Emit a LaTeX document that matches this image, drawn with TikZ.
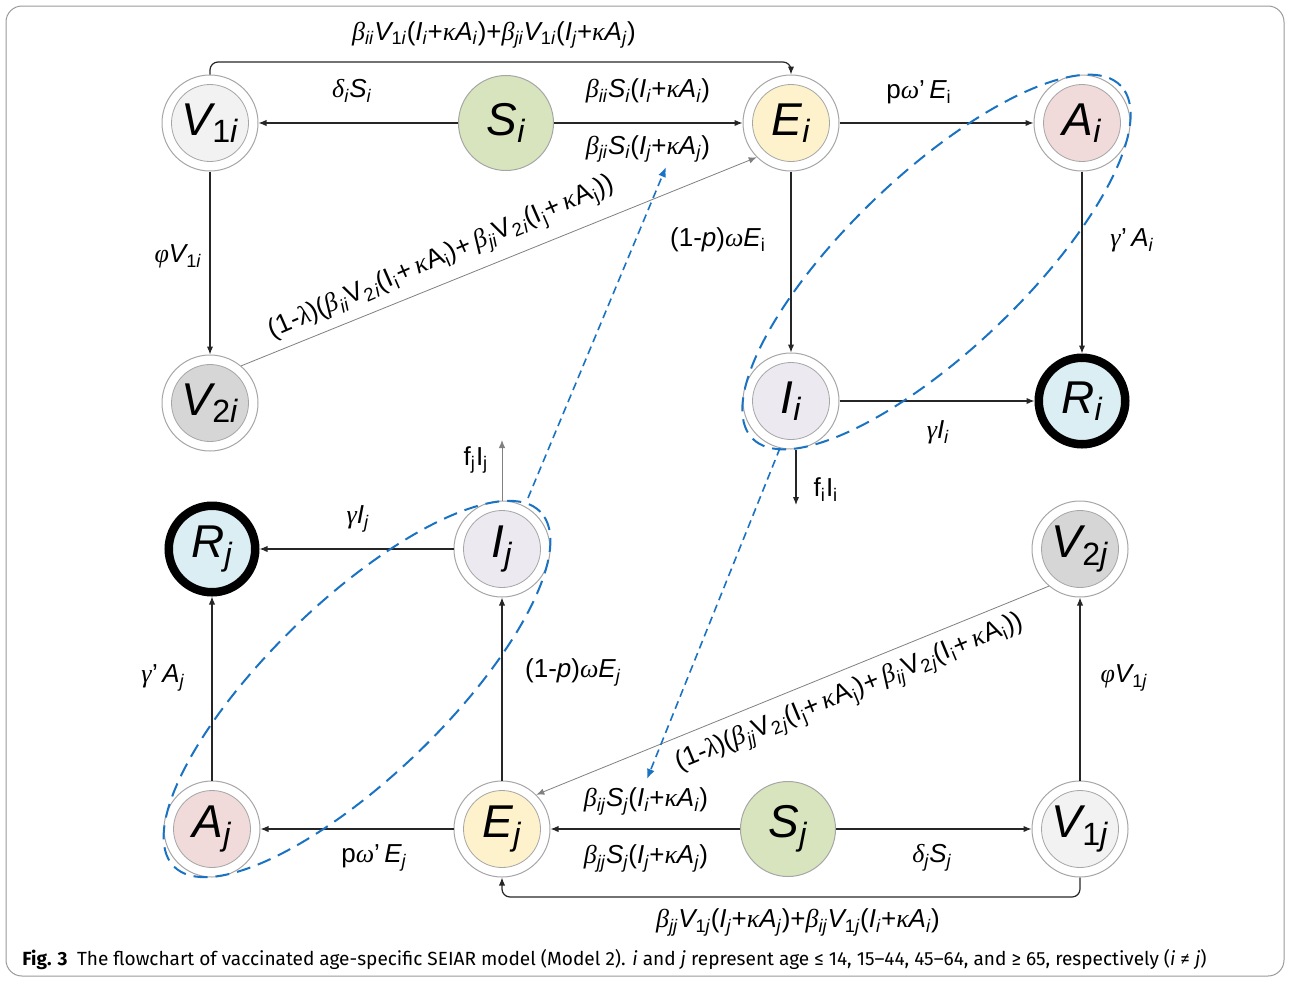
\documentclass[tikz,border=0pt]{standalone}
\usepackage{fontspec}
\usepackage{graphicx}
\setmainfont{Liberation Sans}
\newfontfamily\capfont{Fira Sans}
\newfontfamily\grkfamily{Liberation Serif}
\usetikzlibrary{arrows.meta,calc}
\definecolor{ringgray}{HTML}{A6A6A6}
\definecolor{framegray}{HTML}{9A9A9A}
\definecolor{vonecol}{HTML}{F2F2F2}
\definecolor{vtwocol}{HTML}{D6D6D6}
\definecolor{ecol}{HTML}{FDF2CC}
\definecolor{acol}{HTML}{F0DADA}
\definecolor{icol}{HTML}{ECE9F1}
\definecolor{rcol}{HTML}{DBEEF4}
\definecolor{scol}{HTML}{D7E4BD}
\definecolor{bblue}{HTML}{1A73C2}
\newcommand\ssub[1]{\textsubscript{#1}}
\newcommand\Up[1]{\textup{#1}}
\newcommand\Lp{\textup{(}}
\newcommand\Rp{\textup{)}}
\newcommand\Pl{\textup{+}}
\newcommand\G[1]{{\grkfamily\itshape #1}}
\newcommand\comp[5]{\node[ring] (#1) at (#2,#3) {}; \node[core, fill=#4] (#1c) at (#1) {#5};}
\begin{document}
\begin{tikzpicture}[x=0.5pt,y=-0.5pt,
  ring/.style={circle, draw=ringgray, line width=0.5pt, fill=white, minimum size=48pt, inner sep=0pt},
  core/.style={circle, draw=ringgray, line width=0.4pt, minimum size=38.5pt, inner sep=0pt, font=\fontsize{23}{26}\selectfont\itshape},
  snode/.style={circle, draw=ringgray, line width=0.5pt, fill=scol, minimum size=47.5pt, inner sep=0pt, font=\fontsize{23}{26}\selectfont\itshape},
  rnode/.style={circle, draw=black, line width=4.25pt, fill=rcol, minimum size=43.25pt, inner sep=0pt, font=\fontsize{23}{26}\selectfont\itshape},
  arr/.style={-{Latex[length=4pt,width=3.2pt]}, line width=0.6pt, draw=black!85},
  garr/.style={-{Latex[length=4pt,width=3.2pt]}, line width=0.4pt, draw=gray},
  lbl/.style={font=\fontsize{13}{15}\selectfont\itshape, inner sep=0pt},
  rlbl/.style={font=\fontsize{13.2}{15}\selectfont\itshape, inner sep=0pt},
  bdash/.style={draw=bblue, line width=1pt, dash pattern=on 7pt off 4pt},
  barr/.style={draw=bblue, line width=0.8pt, dash pattern=on 4pt off 2.5pt, -{Latex[length=5pt,width=4pt]}}
]
\useasboundingbox (0,0) rectangle (1290,980);
\draw[framegray, line width=0.5pt, rounded corners=8pt] (6,6) rectangle (1284,976);

% nodes
\comp{V1i}{210}{123}{vonecol}{V\ssub{\Up{1}i}}
\node[snode] (Si) at (506,123) {S\ssub{i}};
\comp{Ei}{791}{123}{ecol}{E\ssub{i}}
\comp{Ai}{1082}{123}{acol}{A\ssub{i}}
\comp{V2i}{210}{403}{vtwocol}{V\ssub{\Up{2}i}}
\comp{Ii}{791}{401}{icol}{I\ssub{i}}
\node[rnode] (Ri) at (1082,401) {R\ssub{i}};
\node[rnode] (Rj) at (212,549) {R\ssub{j}};
\comp{Ij}{502}{549}{icol}{I\ssub{j}}
\comp{V2j}{1080}{549}{vtwocol}{V\ssub{\Up{2}j}}
\comp{Aj}{212}{829}{acol}{A\ssub{j}}
\comp{Ej}{502}{829}{ecol}{E\ssub{j}}
\node[snode] (Sj) at (788,829) {S\ssub{j}};
\comp{V1j}{1080}{829}{vonecol}{V\ssub{\Up{1}j}}

% helper coordinates
\coordinate (tl) at (210,62);
\coordinate (bl) at (502,897);
\coordinate (fi) at (796,505);
\coordinate (fj) at (502,440);

% connectors i
\draw[arr] (Si) -- (V1i);
\draw[arr] (Si) -- (Ei);
\draw[arr, rounded corners=4pt] (V1i.north) -- (V1i.north |- tl) -- (Ei.north |- tl) -- (Ei.north);
\draw[arr] (Ei) -- (Ai);
\draw[arr] (Ei) -- (Ii);
\draw[arr] (Ai) -- (Ri);
\draw[arr] (Ii) -- (Ri);
\draw[arr] (Ii.south -| fi) -- (fi);
\draw[arr] (V1i) -- (V2i);
\draw[garr] (V2i.50) -- (Ei.225);

% connectors j
\draw[arr] (Ij) -- (Rj);
\draw[garr] (Ij.north) -- (fj);
\draw[arr] (Ej) -- (Ij);
\draw[arr] (Aj) -- (Rj);
\draw[arr] (Ej) -- (Aj);
\draw[arr] (Sj) -- (Ej);
\draw[arr] (Sj) -- (V1j);
\draw[arr] (V1j) -- (V2j);
\draw[garr] (V2j.230) -- (Ej.45);
\draw[arr, rounded corners=4pt] (V1j.south) -- (V1j.south |- bl) -- (Ej.south |- bl) -- (Ej.south);

% labels
\node[lbl] (l1) at (494,35) {\G{β}\ssub{ii}V\ssub{\Up{1}i}\Lp I\ssub{i}\Pl\G{κ}A\ssub{i}\Rp\Pl\G{β}\ssub{ji}V\ssub{\Up{1}i}\Lp I\ssub{j}\Pl\G{κ}A\ssub{j}\Rp};
\node[lbl] (l2) at (352,91) {\G{δ}\ssub{i}S\ssub{i}};
\node[lbl] (l3) at (648,91) {\G{β}\ssub{ii}S\ssub{i}\Lp I\ssub{i}\Pl\G{κ}A\ssub{i}\Rp};
\node[lbl] (l4) at (648,149) {\G{β}\ssub{ji}S\ssub{i}\Lp I\ssub{j}\Pl\G{κ}A\ssub{j}\Rp};
\node[lbl] (l5) at (919,92) {\Up{p}\G{ω}\Up{’}\,E\ssub{\Up{i}}};
\node[lbl] (l6) at (718,240) {\Up{(1-}p\Up{)}\G{ω}E\ssub{\Up{i}}};
\node[lbl] (l7) at (1132,240) {\G{γ}\Up{’}\,A\ssub{i}};
\node[lbl] (l8) at (178,256) {\G{φ}V\ssub{\Up{1}i}};
\node[lbl] (l9) at (938,432) {\G{γ}I\ssub{i}};
\node[lbl] (l10) at (826,490) {\Up{f\ssub{i}I\ssub{i}}};
\node[lbl] (l11) at (476,460) {\Up{f\ssub{j}I\ssub{j}}};
\node[lbl] (l12) at (358,519) {\G{γ}I\ssub{j}};
\node[lbl] (l13) at (163,678) {\G{γ}\Up{’}\,A\ssub{j}};
\node[lbl] (l14) at (573,672) {\Up{(1-}p\Up{)}\G{ω}E\ssub{j}};
\node[lbl] (l15) at (1124,678) {\G{φ}V\ssub{\Up{1}j}};
\node[lbl] (l16) at (646,801) {\G{β}\ssub{ij}S\ssub{j}\Lp I\ssub{i}\Pl\G{κ}A\ssub{i}\Rp};
\node[lbl] (l17) at (646,858) {\G{β}\ssub{jj}S\ssub{j}\Lp I\ssub{j}\Pl\G{κ}A\ssub{j}\Rp};
\node[lbl] (l18) at (374,858) {\Up{p}\G{ω}\Up{’}\,E\ssub{j}};
\node[lbl] (l19) at (932,858) {\G{δ}\ssub{j}S\ssub{j}};
\node[lbl] (l20) at (798,922) {\G{β}\ssub{jj}V\ssub{\Up{1}j}\Lp I\ssub{j}\Pl\G{κ}A\ssub{j}\Rp\Pl\G{β}\ssub{ij}V\ssub{\Up{1}j}\Lp I\ssub{i}\Pl\G{κ}A\ssub{i}\Rp};
\node[rlbl, rotate=23.5] (l21) at (442,259) {\Up{(1-}\G{λ}\Up{)(}\G{β}\ssub{ii}\Up{V\ssub{2}}\ssub{i}\Up{(I\ssub{i}+\,}\G{κ}\Up{A\ssub{i})+\,}\G{β}\ssub{ji}\Up{V\ssub{2}}\ssub{i}\Up{(I\ssub{j}+\,}\G{κ}\Up{A\ssub{j}))}};
\node[rlbl, rotate=22.5] (l22) at (850,694) {\Up{(1-}\G{λ}\Up{)(}\G{β}\ssub{jj}\Up{V\ssub{2}}\ssub{j}\Up{(I\ssub{j}+\,}\G{κ}\Up{A\ssub{j})+\,}\G{β}\ssub{ij}\Up{V\ssub{2}}\ssub{j}\Up{(I\ssub{i}+\,}\G{κ}\Up{A\ssub{i}))}};

% blue dashed
\coordinate (ce1) at (936.5,262);
\coordinate (ce2) at (357,689);
\draw[bdash, rotate around={43.7:(ce1)}] (ce1) ellipse [x radius=127.5pt, y radius=44pt];
\draw[bdash, rotate around={44:(ce2)}] (ce2) ellipse [x radius=127.5pt, y radius=44pt];
\coordinate (b1s) at (528,498);
\coordinate (b1e) at (666,167);
\coordinate (b2s) at (780,448);
\coordinate (b2e) at (647,779);
\draw[barr] (b1s) -- (b1e);
\draw[barr] (b2s) -- (b2e);

% caption
\node[anchor=west, inner sep=0pt] (cap) at (22,960) {\resizebox{592pt}{!}{\capfont\textbf{Fig. 3}\enspace The flowchart of vaccinated age-specific SEIAR model (Model 2). \textit{i} and \textit{j} represent age ≤ 14, 15–44, 45–64, and ≥ 65, respectively (\textit{i} ≠ \textit{j})}};
\end{tikzpicture}
\end{document}
